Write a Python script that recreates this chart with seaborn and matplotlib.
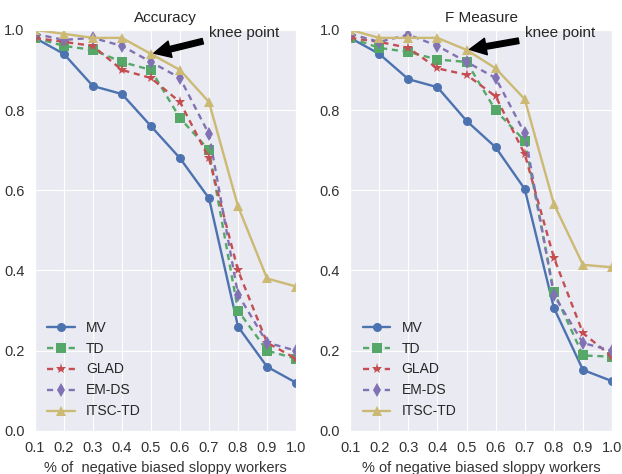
import numpy as np
import pandas as pd
import matplotlib
matplotlib.use('Agg')
import matplotlib.pyplot as plt
import seaborn as sns

# x axis: fraction of negative biased sloppy workers
ratio = [0.1, 0.2, 0.3, 0.4, 0.5, 0.6, 0.7, 0.8, 0.9, 1.0]

methods = ['MV', 'TD', 'GLAD', 'EM-DS', 'ITSC-TD']

# Accuracy panel
acc_mv = [0.98, 0.94, 0.86, 0.84, 0.76, 0.68, 0.58, 0.26, 0.16, 0.12]
acc_td = [0.98, 0.96, 0.95, 0.92, 0.90, 0.78, 0.70, 0.30, 0.20, 0.18]
acc_glad = [0.98, 0.97, 0.96, 0.90, 0.88, 0.82, 0.68, 0.40, 0.22, 0.18]
acc_emds = [0.99, 0.975, 0.98, 0.96, 0.92, 0.88, 0.74, 0.34, 0.22, 0.20]
acc_itsc = [1.00, 0.99, 0.98, 0.98, 0.94, 0.90, 0.82, 0.56, 0.38, 0.36]

# F measure panel
f_mv = [0.98, 0.94, 0.877, 0.857, 0.773, 0.707, 0.603, 0.307, 0.152, 0.124]
f_td = [0.98, 0.955, 0.945, 0.926, 0.92, 0.799, 0.723, 0.347, 0.188, 0.185]
f_glad = [0.98, 0.97, 0.955, 0.904, 0.888, 0.834, 0.69, 0.432, 0.244, 0.185]
f_emds = [0.99, 0.97, 0.988, 0.96, 0.92, 0.88, 0.742, 0.339, 0.219, 0.20]
f_itsc = [1.00, 0.98, 0.98, 0.98, 0.95, 0.904, 0.827, 0.566, 0.414, 0.408]

panels = [
    ('Accuracy', [acc_mv, acc_td, acc_glad, acc_emds, acc_itsc], (0.5, 0.94),
     '% of  negative biased sloppy workers'),
    ('F Measure', [f_mv, f_td, f_glad, f_emds, f_itsc], (0.5, 0.95),
     '% of negative biased sloppy workers'),
]

sns.set_style('darkgrid')
plt.rcParams['font.family'] = ['Liberation Sans', 'DejaVu Sans']

colors = sns.color_palette('deep6')
markers = ['o', 's', '*', 'd', '^']
dashed = (0, (2.6, 2.0))
styles = ['-', dashed, dashed, dashed, '-']
msizes = [6.5, 6.5, 8, 7, 7]

fig = plt.figure(figsize=(6.22, 4.74), dpi=100)
axes = [fig.add_axes([0.056, 0.091, 0.42, 0.846]),
        fig.add_axes([0.563, 0.091, 0.421, 0.846])]

for ax, (title, series, knee, xlabel) in zip(axes, panels):
    for i, (name, vals) in enumerate(zip(methods, series)):
        df = pd.DataFrame({'ratio': ratio, 'value': vals})
        sns.lineplot(data=df, x='ratio', y='value', ax=ax, color=colors[i],
                     marker=markers[i], linestyle=styles[i], linewidth=1.7,
                     markersize=msizes[i], markeredgewidth=0, label=name)
    ax.set_xlim(0.1, 1.0)
    ax.set_ylim(0.0, 1.0)
    ax.set_xticks(np.arange(0.1, 1.01, 0.1))
    ax.set_yticks(np.arange(0.0, 1.01, 0.2))
    ax.tick_params(labelsize=10.5, colors='#333333', pad=4)
    ax.set_title(title, fontsize=11, color='#262626')
    ax.set_xlabel(xlabel, fontsize=10.5, color='#333333')
    ax.set_ylabel('')
    ax.annotate('knee point', xy=knee, xytext=(0.70, 0.983), fontsize=11,
                color='#262626', annotation_clip=False,
                arrowprops=dict(facecolor='black', edgecolor='black', shrink=0.05))
    ax.legend(loc='lower left', frameon=False, fontsize=10)

plt.savefig('out.png', dpi=100)
